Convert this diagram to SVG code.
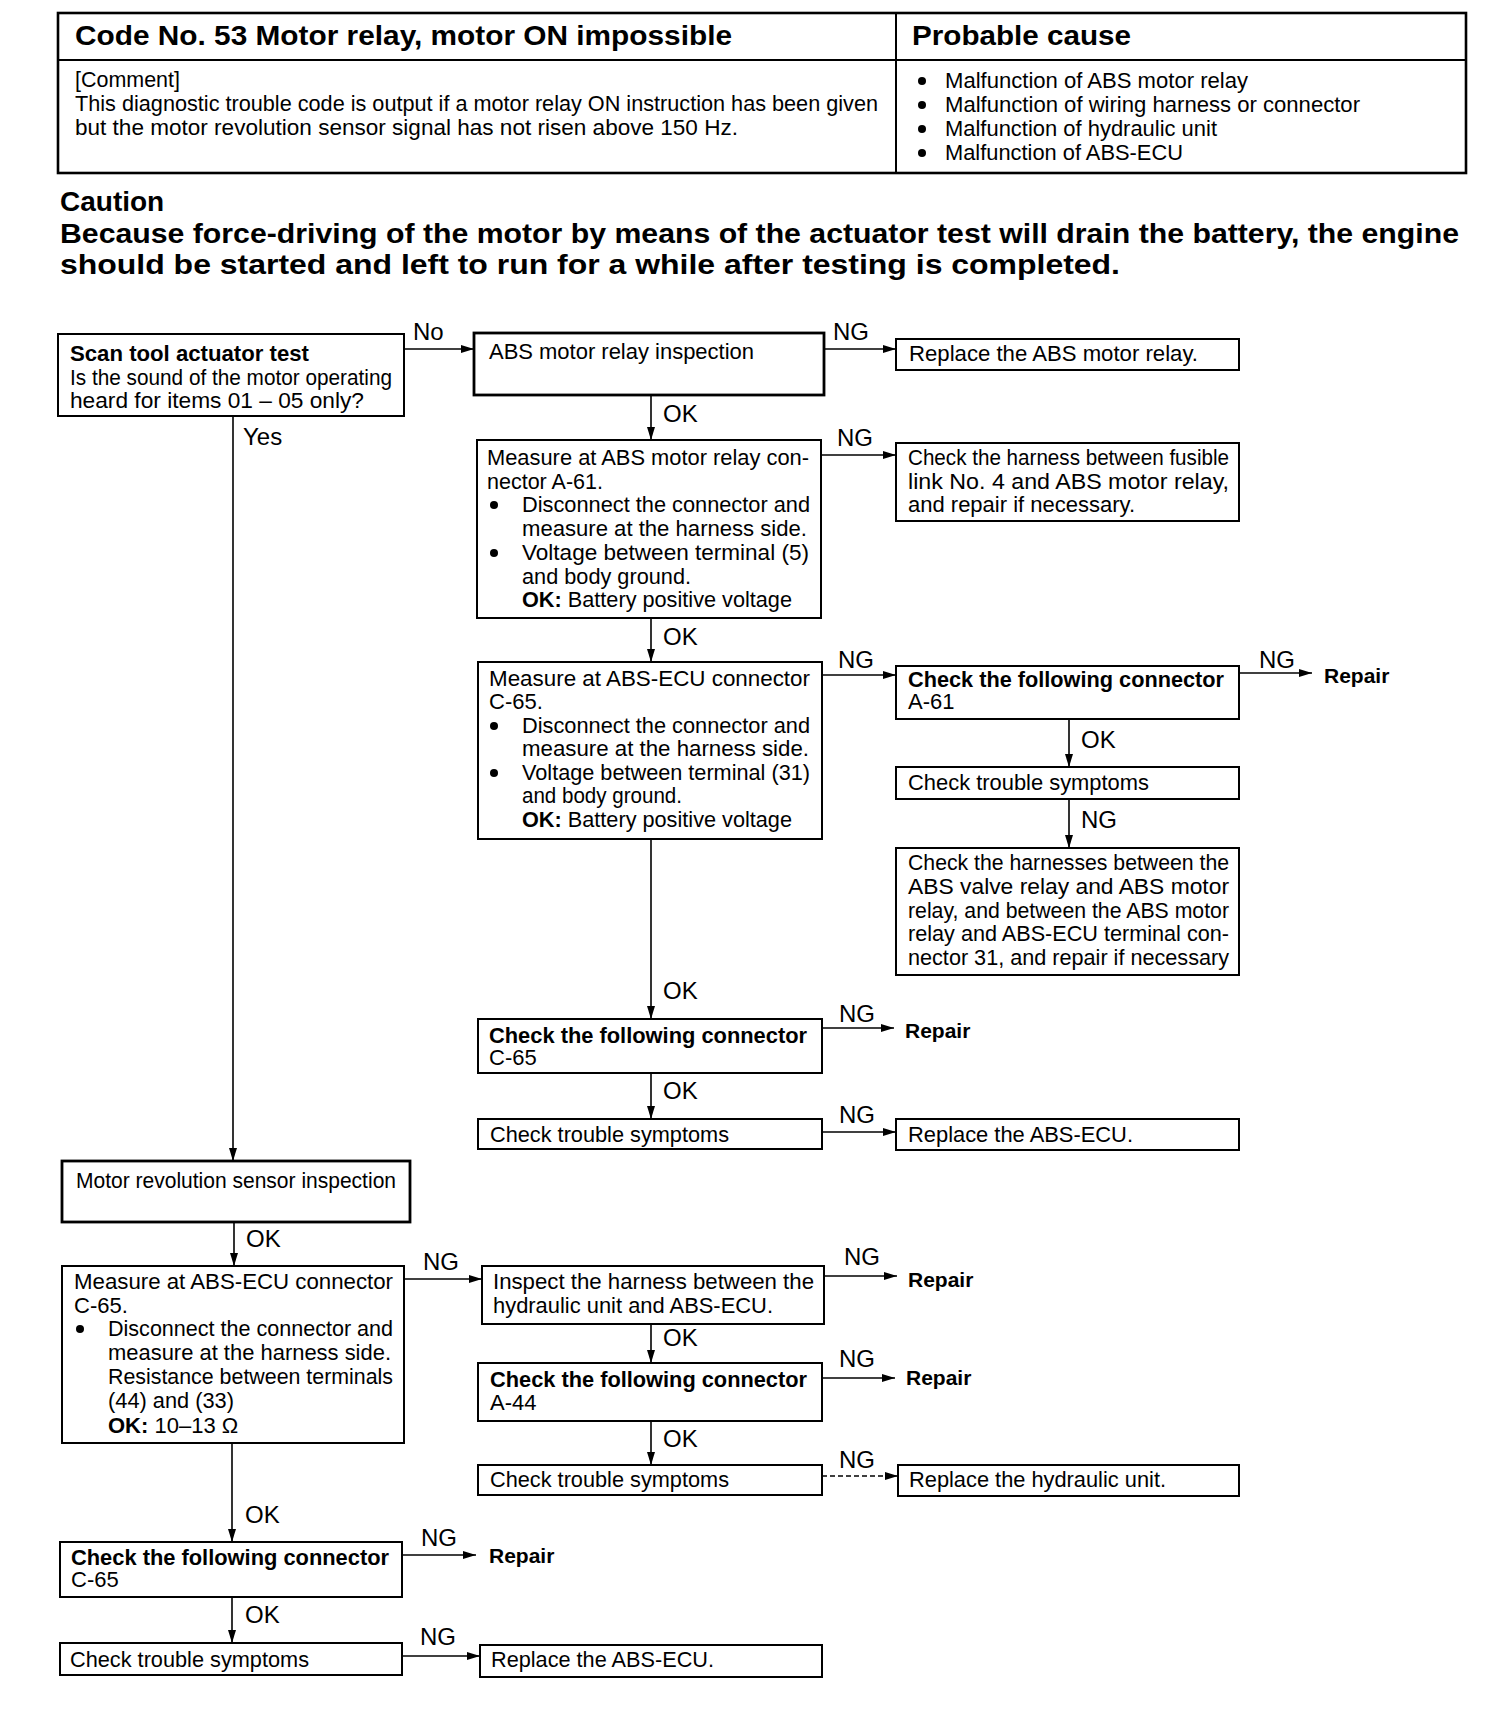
<svg xmlns="http://www.w3.org/2000/svg" width="1504" height="1714" viewBox="0 0 1504 1714">
<defs>
<marker id="ah" markerUnits="userSpaceOnUse" markerWidth="14" markerHeight="10" refX="13" refY="4" orient="auto">
<path d="M0,0 L13,4 L0,8 z" fill="#000"/>
</marker>
</defs>
<style>
.box{fill:#fff;stroke:#000;stroke-width:2}
.thick{stroke-width:2.8}
text{font-family:"Liberation Sans",Arial,Helvetica,sans-serif;font-size:22px;fill:#000}
.b{font-weight:bold}
.h{font-size:28px;font-weight:bold}
.lbl{font-size:24px}
.rp{font-size:21px;font-weight:bold}
.c{stroke:#000;stroke-width:1.6;fill:none}
.a{marker-end:url(#ah)}
.d{stroke-dasharray:5 3}
.dot{fill:#000}
</style>
<rect width="1504" height="1714" fill="#fff"/>

<g id="header">
<rect x="58" y="13" width="1408" height="160" fill="none" stroke="#000" stroke-width="2.6"/>
<line x1="58" y1="60" x2="1466" y2="60" stroke="#000" stroke-width="2"/>
<line x1="896" y1="13" x2="896" y2="173" stroke="#000" stroke-width="2"/>
<text class="h" x="75" y="45" textLength="657" lengthAdjust="spacingAndGlyphs">Code No. 53 Motor relay, motor ON impossible</text>
<text class="h" x="912" y="45" textLength="219" lengthAdjust="spacingAndGlyphs">Probable cause</text>
<text x="75" y="87" textLength="105" lengthAdjust="spacingAndGlyphs">[Comment]</text>
<text x="75" y="111" textLength="803" lengthAdjust="spacingAndGlyphs">This diagnostic trouble code is output if a motor relay ON instruction has been given</text>
<text x="75" y="135" textLength="663" lengthAdjust="spacingAndGlyphs">but the motor revolution sensor signal has not risen above 150 Hz.</text>
<circle class="dot" cx="922" cy="81" r="4"/>
<circle class="dot" cx="922" cy="105" r="4"/>
<circle class="dot" cx="922" cy="129" r="4"/>
<circle class="dot" cx="922" cy="153" r="4"/>
<text x="945" y="88" textLength="303" lengthAdjust="spacingAndGlyphs">Malfunction of ABS motor relay</text>
<text x="945" y="112" textLength="415" lengthAdjust="spacingAndGlyphs">Malfunction of wiring harness or connector</text>
<text x="945" y="136" textLength="272" lengthAdjust="spacingAndGlyphs">Malfunction of hydraulic unit</text>
<text x="945" y="160" textLength="238" lengthAdjust="spacingAndGlyphs">Malfunction of ABS-ECU</text>
</g>

<g id="caution">
<text class="h" x="60" y="211">Caution</text>
<text class="h" x="60" y="243" textLength="1399" lengthAdjust="spacingAndGlyphs">Because force-driving of the motor by means of the actuator test will drain the battery, the engine</text>
<text class="h" x="60" y="274" textLength="1060" lengthAdjust="spacingAndGlyphs">should be started and left to run for a while after testing is completed.</text>
</g>

<g id="connectors">
<line class="c a" x1="404" y1="349" x2="474" y2="349"/>
<text class="lbl" x="413" y="340">No</text>
<line class="c a" x1="824" y1="349" x2="896" y2="349"/>
<text class="lbl" x="833" y="340">NG</text>
<line class="c a" x1="651" y1="395" x2="651" y2="440"/>
<text class="lbl" x="663" y="422">OK</text>
<line class="c a" x1="821" y1="455" x2="896" y2="455"/>
<text class="lbl" x="837" y="446">NG</text>
<line class="c a" x1="651" y1="618" x2="651" y2="662"/>
<text class="lbl" x="663" y="645">OK</text>
<line class="c a" x1="822" y1="675" x2="896" y2="675"/>
<text class="lbl" x="838" y="668">NG</text>
<line class="c a" x1="1239" y1="673" x2="1312" y2="673"/>
<text class="lbl" x="1259" y="668">NG</text>
<line class="c a" x1="1069" y1="719" x2="1069" y2="767"/>
<text class="lbl" x="1081" y="748">OK</text>
<line class="c a" x1="1069" y1="799" x2="1069" y2="848"/>
<text class="lbl" x="1081" y="828">NG</text>
<line class="c a" x1="651" y1="839" x2="651" y2="1019"/>
<text class="lbl" x="663" y="999">OK</text>
<line class="c a" x1="822" y1="1028" x2="894" y2="1028"/>
<text class="lbl" x="839" y="1022">NG</text>
<line class="c a" x1="651" y1="1073" x2="651" y2="1119"/>
<text class="lbl" x="663" y="1099">OK</text>
<line class="c a" x1="822" y1="1132" x2="896" y2="1132"/>
<text class="lbl" x="839" y="1123">NG</text>
<line class="c a" x1="233" y1="416" x2="233" y2="1161"/>
<text class="lbl" x="243" y="445">Yes</text>
<line class="c a" x1="234" y1="1222" x2="234" y2="1266"/>
<text class="lbl" x="246" y="1247">OK</text>
<line class="c a" x1="404" y1="1279" x2="482" y2="1279"/>
<text class="lbl" x="423" y="1270">NG</text>
<line class="c a" x1="824" y1="1276" x2="897" y2="1276"/>
<text class="lbl" x="844" y="1265">NG</text>
<line class="c a" x1="651" y1="1324" x2="651" y2="1363"/>
<text class="lbl" x="663" y="1346">OK</text>
<line class="c a" x1="822" y1="1378" x2="895" y2="1378"/>
<text class="lbl" x="839" y="1367">NG</text>
<line class="c a" x1="651" y1="1421" x2="651" y2="1465"/>
<text class="lbl" x="663" y="1447">OK</text>
<line class="c a d" x1="822" y1="1476" x2="898" y2="1476"/>
<text class="lbl" x="839" y="1468">NG</text>
<line class="c a" x1="232" y1="1443" x2="232" y2="1542"/>
<text class="lbl" x="245" y="1523">OK</text>
<line class="c a" x1="402" y1="1555" x2="476" y2="1555"/>
<text class="lbl" x="421" y="1546">NG</text>
<line class="c a" x1="232" y1="1597" x2="232" y2="1643"/>
<text class="lbl" x="245" y="1623">OK</text>
<line class="c a" x1="402" y1="1656" x2="480" y2="1656"/>
<text class="lbl" x="420" y="1645">NG</text>
</g>

<g id="scan-tool-test">
<rect class="box" x="58" y="334" width="346" height="82"/>
<text class="b" x="70" y="361" textLength="239" lengthAdjust="spacingAndGlyphs">Scan tool actuator test</text>
<text x="70" y="385" textLength="322" lengthAdjust="spacingAndGlyphs">Is the sound of the motor operating</text>
<text x="70" y="408" textLength="294" lengthAdjust="spacingAndGlyphs">heard for items 01 – 05 only?</text>
</g>

<g id="abs-motor-relay-inspection">
<rect class="box thick" x="474" y="333" width="350" height="62"/>
<text x="489" y="359" textLength="265" lengthAdjust="spacingAndGlyphs">ABS motor relay inspection</text>
</g>

<g id="replace-motor-relay">
<rect class="box" x="896" y="339" width="343" height="31"/>
<text x="909" y="361" textLength="289" lengthAdjust="spacingAndGlyphs">Replace the ABS motor relay.</text>
</g>

<g id="measure-a61">
<rect class="box" x="477" y="440" width="344" height="178"/>
<text x="487" y="465" textLength="322" lengthAdjust="spacingAndGlyphs">Measure at ABS motor relay con-</text>
<text x="487" y="489" textLength="116" lengthAdjust="spacingAndGlyphs">nector A-61.</text>
<circle class="dot" cx="494" cy="505" r="4"/>
<text x="522" y="512" textLength="288" lengthAdjust="spacingAndGlyphs">Disconnect the connector and</text>
<text x="522" y="536" textLength="285" lengthAdjust="spacingAndGlyphs">measure at the harness side.</text>
<circle class="dot" cx="494" cy="553" r="4"/>
<text x="522" y="560" textLength="287" lengthAdjust="spacingAndGlyphs">Voltage between terminal (5)</text>
<text x="522" y="584" textLength="169" lengthAdjust="spacingAndGlyphs">and body ground.</text>
<text x="522" y="607" textLength="270" lengthAdjust="spacingAndGlyphs"><tspan class="b">OK:</tspan> Battery positive voltage</text>
</g>

<g id="check-fusible-link">
<rect class="box" x="896" y="443" width="343" height="78"/>
<text x="908" y="465" textLength="321" lengthAdjust="spacingAndGlyphs">Check the harness between fusible</text>
<text x="908" y="489" textLength="321" lengthAdjust="spacingAndGlyphs">link No. 4 and ABS motor relay,</text>
<text x="908" y="512" textLength="227" lengthAdjust="spacingAndGlyphs">and repair if necessary.</text>
</g>

<g id="measure-c65-upper">
<rect class="box" x="478" y="662" width="344" height="177"/>
<text x="489" y="686" textLength="321" lengthAdjust="spacingAndGlyphs">Measure at ABS-ECU connector</text>
<text x="489" y="709">C-65.</text>
<circle class="dot" cx="494" cy="726" r="4"/>
<text x="522" y="733" textLength="288" lengthAdjust="spacingAndGlyphs">Disconnect the connector and</text>
<text x="522" y="756" textLength="287" lengthAdjust="spacingAndGlyphs">measure at the harness side.</text>
<circle class="dot" cx="494" cy="773" r="4"/>
<text x="522" y="780" textLength="288" lengthAdjust="spacingAndGlyphs">Voltage between terminal (31)</text>
<text x="522" y="803" textLength="160" lengthAdjust="spacingAndGlyphs">and body ground.</text>
<text x="522" y="827" textLength="270" lengthAdjust="spacingAndGlyphs"><tspan class="b">OK:</tspan> Battery positive voltage</text>
</g>

<g id="check-connector-a61">
<rect class="box" x="896" y="666" width="343" height="53"/>
<text class="b" x="908" y="687" textLength="316" lengthAdjust="spacingAndGlyphs">Check the following connector</text>
<text x="908" y="709">A-61</text>
</g>

<g id="repair-1">
<text class="rp" x="1324" y="683">Repair</text>
</g>

<g id="check-symptoms-right">
<rect class="box" x="896" y="767" width="343" height="32"/>
<text x="908" y="790" textLength="241" lengthAdjust="spacingAndGlyphs">Check trouble symptoms</text>
</g>

<g id="check-harnesses-valve-relay">
<rect class="box" x="896" y="848" width="343" height="127"/>
<text x="908" y="870" textLength="321" lengthAdjust="spacingAndGlyphs">Check the harnesses between the</text>
<text x="908" y="894" textLength="321" lengthAdjust="spacingAndGlyphs">ABS valve relay and ABS motor</text>
<text x="908" y="918" textLength="321" lengthAdjust="spacingAndGlyphs">relay, and between the ABS motor</text>
<text x="908" y="941" textLength="321" lengthAdjust="spacingAndGlyphs">relay and ABS-ECU terminal con-</text>
<text x="908" y="965" textLength="321" lengthAdjust="spacingAndGlyphs">nector 31, and repair if necessary</text>
</g>

<g id="check-connector-c65-mid">
<rect class="box" x="478" y="1019" width="344" height="54"/>
<text class="b" x="489" y="1043" textLength="318" lengthAdjust="spacingAndGlyphs">Check the following connector</text>
<text x="489" y="1065">C-65</text>
</g>

<g id="repair-2">
<text class="rp" x="905" y="1038">Repair</text>
</g>

<g id="check-symptoms-mid">
<rect class="box" x="478" y="1119" width="344" height="30"/>
<text x="490" y="1142" textLength="239" lengthAdjust="spacingAndGlyphs">Check trouble symptoms</text>
</g>

<g id="replace-ecu-mid">
<rect class="box" x="896" y="1119" width="343" height="31"/>
<text x="908" y="1142" textLength="225" lengthAdjust="spacingAndGlyphs">Replace the ABS-ECU.</text>
</g>

<g id="motor-revolution-sensor">
<rect class="box thick" x="62" y="1161" width="348" height="61"/>
<text x="76" y="1188" textLength="320" lengthAdjust="spacingAndGlyphs">Motor revolution sensor inspection</text>
</g>

<g id="measure-c65-lower">
<rect class="box" x="62" y="1266" width="342" height="177"/>
<text x="74" y="1289" textLength="319" lengthAdjust="spacingAndGlyphs">Measure at ABS-ECU connector</text>
<text x="74" y="1313">C-65.</text>
<circle class="dot" cx="80" cy="1329" r="4"/>
<text x="108" y="1336" textLength="285" lengthAdjust="spacingAndGlyphs">Disconnect the connector and</text>
<text x="108" y="1360" textLength="283" lengthAdjust="spacingAndGlyphs">measure at the harness side.</text>
<text x="108" y="1384" textLength="285" lengthAdjust="spacingAndGlyphs">Resistance between terminals</text>
<text x="108" y="1408" textLength="126" lengthAdjust="spacingAndGlyphs">(44) and (33)</text>
<text x="108" y="1433"><tspan class="b">OK:</tspan> 10–13 Ω</text>
</g>

<g id="inspect-hydraulic-harness">
<rect class="box" x="482" y="1266" width="342" height="58"/>
<text x="493" y="1289" textLength="321" lengthAdjust="spacingAndGlyphs">Inspect the harness between the</text>
<text x="493" y="1313" textLength="280" lengthAdjust="spacingAndGlyphs">hydraulic unit and ABS-ECU.</text>
</g>

<g id="repair-3">
<text class="rp" x="908" y="1287">Repair</text>
</g>

<g id="check-connector-a44">
<rect class="box" x="478" y="1363" width="344" height="58"/>
<text class="b" x="490" y="1387" textLength="317" lengthAdjust="spacingAndGlyphs">Check the following connector</text>
<text x="490" y="1410">A-44</text>
</g>

<g id="repair-4">
<text class="rp" x="906" y="1385">Repair</text>
</g>

<g id="check-symptoms-lower-mid">
<rect class="box" x="478" y="1465" width="344" height="30"/>
<text x="490" y="1487" textLength="239" lengthAdjust="spacingAndGlyphs">Check trouble symptoms</text>
</g>

<g id="replace-hydraulic-unit">
<rect class="box" x="898" y="1465" width="341" height="31"/>
<text x="909" y="1487" textLength="257" lengthAdjust="spacingAndGlyphs">Replace the hydraulic unit.</text>
</g>

<g id="check-connector-c65-lower">
<rect class="box" x="60" y="1542" width="342" height="55"/>
<text class="b" x="71" y="1565" textLength="318" lengthAdjust="spacingAndGlyphs">Check the following connector</text>
<text x="71" y="1587">C-65</text>
</g>

<g id="repair-5">
<text class="rp" x="489" y="1563">Repair</text>
</g>

<g id="check-symptoms-lower-left">
<rect class="box" x="60" y="1643" width="342" height="32"/>
<text x="70" y="1667" textLength="239" lengthAdjust="spacingAndGlyphs">Check trouble symptoms</text>
</g>

<g id="replace-ecu-lower">
<rect class="box" x="480" y="1645" width="342" height="32"/>
<text x="491" y="1667" textLength="223" lengthAdjust="spacingAndGlyphs">Replace the ABS-ECU.</text>
</g>
</svg>
